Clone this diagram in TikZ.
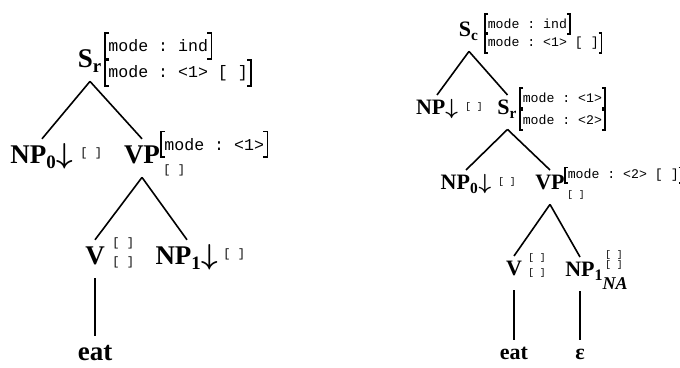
\documentclass[tikz,border=0pt]{standalone}
\usepackage{fontspec}
\setmainfont{Liberation Serif}
\setmonofont{Liberation Mono}
\usepackage{tikz}

\tikzset{
	cat/.style={anchor=base, inner xsep=0pt, inner ysep=3.5pt, text height=8.9pt, text depth=3pt, font=\bfseries\fontsize{13.5}{14}\selectfont},
	catsm/.style={anchor=base, inner xsep=0pt, inner ysep=2.5pt, text height=7.3pt, text depth=4.5pt, font=\bfseries\fontsize{11}{12}\selectfont},
	feat/.style={anchor=west, inner xsep=1.5pt, inner ysep=0pt, minimum height=12.5pt, font=\ttfamily\fontsize{8.3}{9}\selectfont},
	featsm/.style={anchor=west, inner xsep=1.2pt, inner ysep=0pt, minimum height=9.5pt, font=\ttfamily\fontsize{6.6}{7}\selectfont},
	nofeat/.style={anchor=west, inner sep=0pt, align=left, font=\ttfamily\fontsize{6}{9.5}\selectfont},
	nofeatsm/.style={anchor=west, inner sep=0pt, align=left, font=\ttfamily\fontsize{4.8}{7.5}\selectfont},
	branch/.style={line width=0.8pt},
}
\newcommand{\avmbox}[2][2pt]{%
	\draw[line width=0.9pt] ([xshift=#1]#2.north west) -- (#2.north west) -- (#2.south west) -- ([xshift=#1]#2.south west);
	\draw[line width=0.9pt] ([xshift=-#1]#2.north east) -- (#2.north east) -- (#2.south east) -- ([xshift=-#1]#2.south east);}
\newcommand{\subst}{\mbox{\boldmath$\downarrow$}}

\begin{document}
\begin{tikzpicture}[x=0.5pt, y=-0.5pt]
	\useasboundingbox (0,0) rectangle (680,368);

	\node[cat] (Sr) at (90,68) {S\textsubscript{r}};
	\node[feat] (SrT) at (105,46) {mode : ind};
	\node[feat] (SrB) at (105,73) {mode : <1> [ ]};
	\avmbox{SrT}
	\avmbox{SrB}

	\node[cat] (NP0) at (42,164) {NP\textsubscript{0}\subst};
	\node[nofeat] (NP0f) at (80,153) {[ ]};
	\node[cat] (VP) at (142,164) {VP};
	\node[feat] (VPT) at (161,144.5) {mode : <1>};
	\avmbox{VPT}
	\node[nofeat] (VPB) at (163,170) {[ ]};

	\node[cat] (V) at (95,265) {V};
	\node[nofeat] (Vf) at (112,252.5) {{[ ]}\\{[ ]}};
	\node[cat] (NP1) at (187,265) {NP\textsubscript{1}\subst};
	\node[nofeat] (NP1f) at (223,254) {[ ]};
	\node[cat] (eat) at (95,361) {eat};

	\draw[branch] (Sr.south) -- (NP0.north);
	\draw[branch] (Sr.south) -- (VP.north);
	\draw[branch] (VP.south) -- (V.north);
	\draw[branch] (VP.south) -- (NP1.north);
	\draw[branch] (V.south) -- (eat.north);

	\node[catsm] (Sc) at (469,37) {S\textsubscript{c}};
	\node[featsm] (ScT) at (485,24) {mode : ind};
	\node[featsm] (ScB) at (485,43) {mode : <1> [ ]};
	\avmbox[1.5pt]{ScT}
	\avmbox[1.5pt]{ScB}

	\node[catsm] (NPr) at (437,115) {NP\subst};
	\node[nofeatsm] (NPrf) at (465,107) {[ ]};
	\node[catsm] (Srr) at (507.5,115) {S\textsubscript{r}};
	\node[featsm] (SrrT) at (520,98) {mode : <1>};
	\node[featsm] (SrrB) at (520,120) {mode : <2>};
	\avmbox[1.5pt]{SrrT}
	\avmbox[1.5pt]{SrrB}

	\node[catsm] (NP0r) at (466,190) {NP\textsubscript{0}\subst};
	\node[nofeatsm] (NP0rf) at (498,182) {[ ]};
	\node[catsm] (VPr) at (550,190) {VP};
	\node[featsm, minimum height=7.5pt] (VPrT) at (565,175.5) {mode : <2> [ ]};
	\avmbox[1.5pt]{VPrT}
	\node[nofeatsm] (VPrB) at (567,195) {[ ]};

	\node[catsm] (Vr) at (514,276) {V};
	\node[nofeatsm] (Vrf) at (528,265.5) {{[ ]}\\{[ ]}};
	\node[catsm] (NP1r) at (580,277) {NP\rlap{\raisebox{-2pt}{\fontsize{8}{8}\selectfont 1}\raisebox{-6.5pt}{\fontsize{9}{9}\selectfont\itshape NA}}};
	\node[nofeatsm, font=\ttfamily\fontsize{4.8}{5.2}\selectfont] (NP1rf) at (605,260) {{[ ]}\\{[ ]}};
	\node[catsm] (eatr) at (514,360) {eat};
	\node[catsm] (eps) at (580,360) {ε};

	\draw[branch] (Sc.south) -- (NPr.north);
	\draw[branch] (Sc.south) -- (Srr.north);
	\draw[branch] (Srr.south) -- (NP0r.north);
	\draw[branch] (Srr.south) -- (VPr.north);
	\draw[branch] (VPr.south) -- (Vr.north);
	\draw[branch] (VPr.south) -- (NP1r.north);
	\draw[branch] (Vr.south) -- (eatr.north);
	\draw[branch] (NP1r.south) -- (eps.north);
\end{tikzpicture}
\end{document}
